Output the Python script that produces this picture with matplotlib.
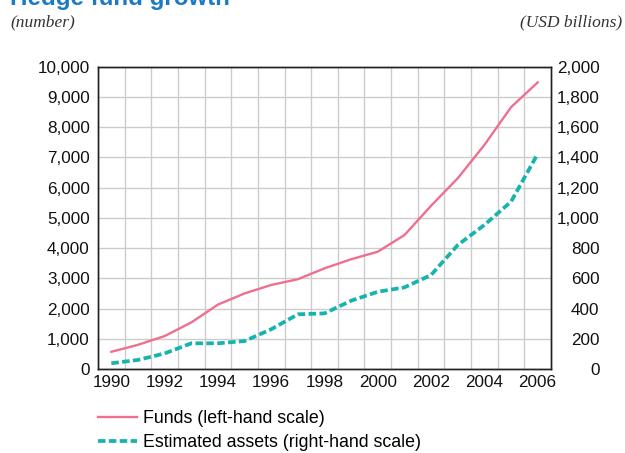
import matplotlib.pyplot as plt
from matplotlib.lines import Line2D

# hedge fund data
years = list(range(1990, 2007))
funds = [570, 800, 1090, 1540, 2130, 2500, 2780, 2970, 3330, 3630,
         3880, 4430, 5400, 6310, 7410, 8660, 9480]
assets = [38, 60, 103, 170, 170, 185, 263, 362, 368, 452,
          511, 540, 622, 820, 953, 1107, 1423]

left_ticks = list(range(0, 10001, 1000))
right_ticks = list(range(0, 2001, 200))
x_labels = list(range(1990, 2007, 2))

pink = "#ef6f8f"
teal = "#17b3ad"
plt.rcParams["font.family"] = ["Liberation Sans", "DejaVu Sans"]

fig = plt.figure(figsize=(6.25, 4.53), dpi=100)
ax = fig.add_axes([0.1568, 0.1854, 0.7248, 0.6674])
ax2 = ax.twinx()

ax.plot(years, funds, color=pink, lw=1.7, solid_joinstyle="miter")
ax2.plot(years, assets, color=teal, lw=2.7, linestyle=(0, (2, 0.9)))

ax.set_xlim(1989.5, 2006.5)
ax.set_ylim(0, 10000)
ax2.set_ylim(0, 2000)

ax.set_xticks(x_labels)
ax.set_xticks([y + 0.5 for y in range(1989, 2006)], minor=True)
ax.set_yticks(left_ticks)
ax2.set_yticks(right_ticks)
ax.set_yticklabels([f"{v:,}" for v in left_ticks])
ax2.set_yticklabels([f"{v:,}" for v in right_ticks])
for lab in ax2.get_yticklabels():
    lab.set_horizontalalignment("right")

ax.grid(True, which="minor", axis="x", color="#cccccc", lw=1)
ax.grid(True, which="major", axis="y", color="#cccccc", lw=1)
ax.set_axisbelow(True)

ax.tick_params(axis="both", which="both", length=0, labelsize=12.3, colors="#111111")
ax.tick_params(axis="y", pad=6)
ax.tick_params(axis="x", pad=4)
ax2.tick_params(axis="y", length=0, labelsize=12.3, colors="#111111", pad=35)
for a in (ax, ax2):
    for s in a.spines.values():
        s.set_linewidth(1)
        s.set_color("#222222")

# title is partly cut off at the top, as in the original
fig.text(10 / 625, 1 - 5 / 453, "Hedge fund growth", fontsize=17.4,
         fontweight="bold", color="#1a7ac4", va="baseline", ha="left")
fig.text(10 / 625, 1 - 26 / 453, "(number)", fontsize=12.5, style="italic",
         family="Liberation Serif", color="#333333", va="baseline")
fig.text(622 / 625, 1 - 26 / 453, "(USD billions)", fontsize=12.5, style="italic",
         family="Liberation Serif", color="#333333", va="baseline", ha="right")

handles = [Line2D([], [], color=pink, lw=1.7),
           Line2D([], [], color=teal, lw=2.7, linestyle=(0, (2, 0.9)))]
fig.legend(handles, ["Funds (left-hand scale)", "Estimated assets (right-hand scale)"],
           loc="upper left", bbox_to_anchor=(91 / 625, 1 - 403 / 453),
           frameon=False, fontsize=12.8, handlelength=2.2, handletextpad=0.35,
           labelspacing=0.38, borderaxespad=0)

fig.savefig("out.png", dpi=100)
